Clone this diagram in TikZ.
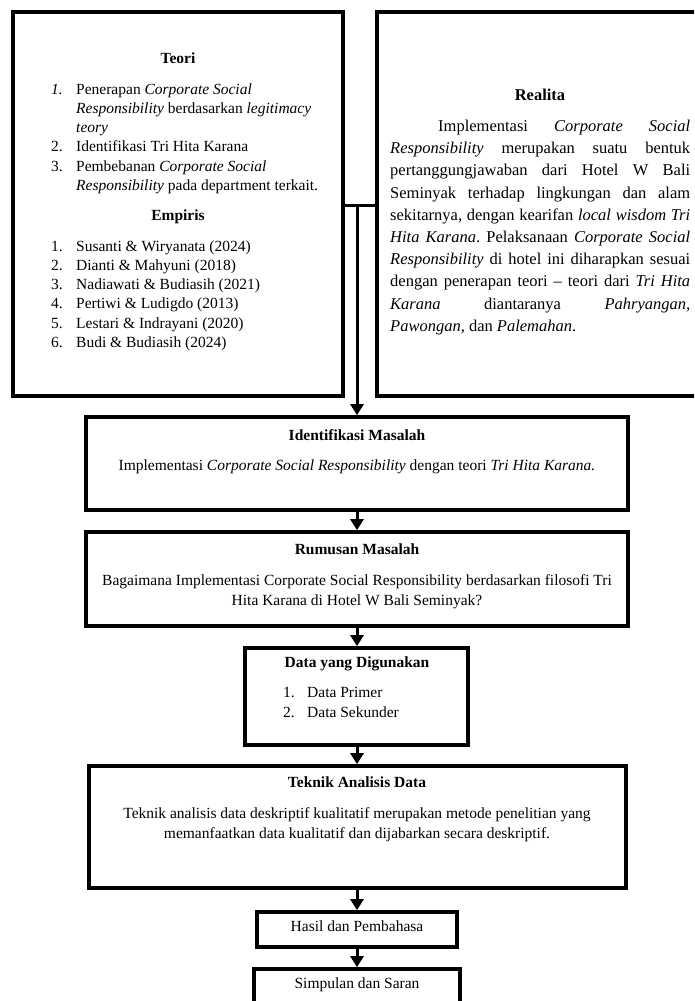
\documentclass[tikz,border=0pt]{standalone}
\usepackage{fontspec}
\setmainfont{Liberation Serif}
\usetikzlibrary{arrows.meta}
\frenchspacing
\newcommand{\fsn}{\fontsize{15.5}{19.3}\selectfont}
\newcommand{\fsm}{\fontsize{15.5}{20}\selectfont}
\newcommand{\fsr}{\fontsize{16.5}{22.2}\selectfont}
\begin{document}
\begin{tikzpicture}[x=1pt,y=-1pt,
  box/.style={draw, line width=3.7pt, rectangle, inner sep=0pt},
  conn/.style={line width=3pt},
  arr/.style={line width=3pt, -{Triangle[width=13pt,length=11pt]}},
  ttl/.style={inner sep=0pt, font=\fsn\bfseries},
  txt/.style={inner sep=0pt, font=\fsm},
  lst/.style={inner sep=0pt, font=\fsn},
]
\useasboundingbox (0,0) rectangle (694,1001);
\clip (0,0) rectangle (694,1001);

% boxes
\node[box, minimum width=330pt, minimum height=384pt] (teori) at (178,204) {};
\node[box, minimum width=333pt, minimum height=384pt] (realita) at (543.5,204) {};
\node[box, minimum width=542pt, minimum height=93pt] (ident) at (357,463.5) {};
\node[box, minimum width=542pt, minimum height=94pt] (rumusan) at (357,579) {};
\node[box, minimum width=223pt, minimum height=97pt] (data) at (356.5,696.5) {};
\node[box, minimum width=537pt, minimum height=122pt] (teknik) at (357.5,827) {};
\node[box, minimum width=200pt, minimum height=35pt] (hasil) at (357,929.5) {};
\node[box, minimum width=206pt, minimum height=43pt] (simpulan) at (357,990.5) {};

% Teori / Empiris text
\node[ttl, anchor=base] (teori-h) at (178,63) {Teori};
\node[lst, anchor=base west] (teori-l) at (51,94) {\begin{tabular}[t]{@{}p{25pt}@{}l@{}}
\textit{1.} & Penerapan \textit{Corporate Social}\\
 & \textit{Responsibility} berdasarkan \textit{legitimacy}\\
 & \textit{teory}\\
2. & Identifikasi Tri Hita Karana\\
3. & Pembebanan \textit{Corporate Social}\\
 & \textit{Responsibility} pada department terkait.
\end{tabular}};
\node[ttl, anchor=base] (emp-h) at (178,220) {Empiris};
\node[lst, anchor=base west] (emp-l) at (51,251) {\begin{tabular}[t]{@{}p{25pt}@{}l@{}}
1. & Susanti \& Wiryanata (2024)\\
2. & Dianti \& Mahyuni (2018)\\
3. & Nadiawati \& Budiasih (2021)\\
4. & Pertiwi \& Ludigdo (2013)\\
5. & Lestari \& Indrayani (2020)\\
6. & Budi \& Budiasih (2024)
\end{tabular}};

% Realita text
\node[inner sep=0pt, font=\fsr\bfseries, anchor=base] (real-h) at (540,100) {Realita};
\node[inner sep=0pt, anchor=base west] (real-p) at (390,131.5) {\parbox[t]{300pt}{\fsr\hspace*{48pt}Implementasi \textit{Corporate Social}\linebreak
\textit{Responsibility} merupakan suatu bentuk\linebreak
pertanggungjawaban dari Hotel W Bali\linebreak
Seminyak terhadap lingkungan dan alam\linebreak
sekitarnya, dengan kearifan \textit{local wisdom Tri}\linebreak
\textit{Hita Karana}. Pelaksanaan \textit{Corporate Social}\linebreak
\textit{Responsibility} di hotel ini diharapkan sesuai\linebreak
dengan penerapan teori – teori dari \textit{Tri Hita}\linebreak
\textit{Karana} diantaranya \textit{Pahryangan,}\linebreak
\textit{Pawongan,} dan \textit{Palemahan}.}};

% middle texts
\node[ttl, anchor=base] (ident-h) at (357,440) {Identifikasi Masalah};
\node[txt, anchor=base] (ident-t) at (357,470) {Implementasi \textit{Corporate Social Responsibility} dengan teori \textit{Tri Hita Karana.}};
\node[ttl, anchor=base] (rum-h) at (357,554) {Rumusan Masalah};
\node[txt, anchor=base] (rum-t) at (357,585) {\begin{tabular}[t]{@{}c@{}}Bagaimana Implementasi Corporate Social Responsibility berdasarkan filosofi Tri\\Hita Karana di Hotel W Bali Seminyak?\end{tabular}};
\node[ttl, anchor=base] (data-h) at (357,667) {Data yang Digunakan};
\node[txt, anchor=base west] (data-l) at (283,697) {\begin{tabular}[t]{@{}p{24pt}@{}l@{}}
1. & Data Primer\\
2. & Data Sekunder
\end{tabular}};
\node[ttl, anchor=base] (tek-h) at (357,787) {Teknik Analisis Data};
\node[txt, anchor=base] (tek-t) at (357,818) {\begin{tabular}[t]{@{}c@{}}Teknik analisis data deskriptif kualitatif merupakan metode penelitian yang\\memanfaatkan data kualitatif dan dijabarkan secara deskriptif.\end{tabular}};
\node[txt, anchor=base] (hasil-t) at (357,931) {Hasil dan Pembahasa};
\node[txt, anchor=base] (simp-t) at (357,988) {Simpulan dan Saran};

% connectors
\coordinate (j) at (357,205);
\draw[conn] (teori.east |- j) -- (realita.west |- j);
\draw[arr] (j) -- (j |- ident.north);
\draw[arr] (j |- ident.south) -- (j |- rumusan.north);
\draw[arr] (j |- rumusan.south) -- (j |- data.north);
\draw[arr] (j |- data.south) -- (j |- teknik.north);
\draw[arr] (j |- teknik.south) -- (j |- hasil.north);
\draw[arr] (j |- hasil.south) -- (j |- simpulan.north);
\end{tikzpicture}
\end{document}
